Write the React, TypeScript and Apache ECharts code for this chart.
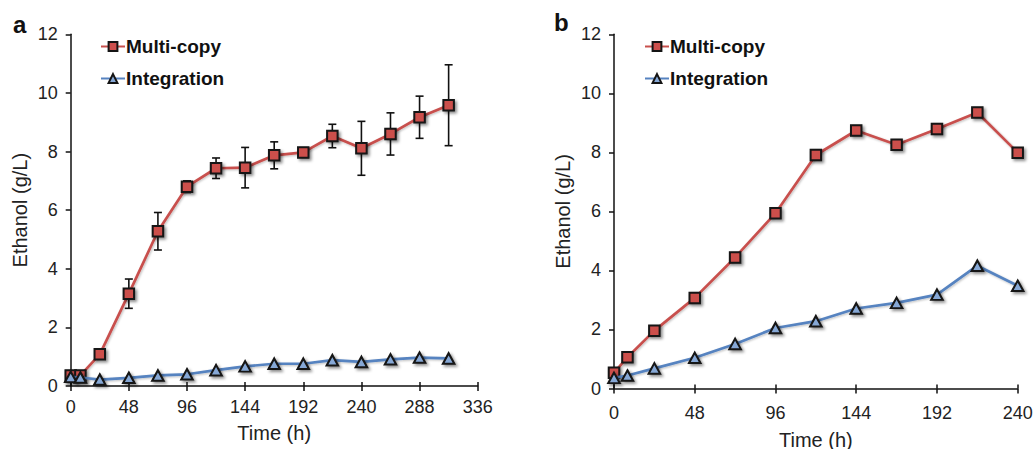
import React, { useEffect, useRef } from "react";
import * as echarts from "echarts";

// Panel a
const timeA = [0, 8, 24, 48, 72, 96, 120, 144, 168, 192, 216, 240, 264, 288, 312];
const multiA = [0.36, 0.36, 1.08, 3.15, 5.28, 6.8, 7.43, 7.45, 7.87, 7.97, 8.53, 8.11, 8.6, 9.17, 9.58];
const errA = [0.05, 0.05, 0.1, 0.5, 0.64, 0.2, 0.35, 0.69, 0.46, 0.1, 0.4, 0.92, 0.72, 0.72, 1.38];
const integA = [0.31, 0.29, 0.22, 0.28, 0.36, 0.4, 0.54, 0.67, 0.76, 0.76, 0.88, 0.82, 0.91, 0.97, 0.94];

// Panel b
const timeB = [0, 8, 24, 48, 72, 96, 120, 144, 168, 192, 216, 240];
const multiB = [0.53, 1.06, 1.96, 3.07, 4.44, 5.94, 7.91, 8.74, 8.26, 8.79, 9.35, 7.99];
const integB = [0.36, 0.44, 0.68, 1.04, 1.51, 2.05, 2.28, 2.71, 2.9, 3.18, 4.16, 3.48];

const FONT = "Liberation Sans";
const RED_LINE = "#c8504d";
const RED_FILL = "#cc4f4c";
const BLUE_LINE = "#5683c0";
const BLUE_FILL = "#86a8d6";
const EDGE = "#141414";

const pair = (xs: number[], ys: number[]) => xs.map((x, i) => [x, ys[i]]);

function yAxisFor(gridIndex: number) {
  return {
    type: "value",
    gridIndex,
    min: 0,
    max: 12,
    interval: 2,
    name: "Ethanol (g/L)",
    nameLocation: "middle",
    nameGap: 41,
    nameTextStyle: { fontFamily: FONT, fontSize: 20, color: "#222" },
    axisLine: { show: true, lineStyle: { color: "#111", width: 1.5 } },
    axisTick: { show: true, length: 5, lineStyle: { color: "#111", width: 1.5 } },
    axisLabel: { fontFamily: FONT, fontSize: 18, color: "#222", margin: 13 },
    splitLine: { show: false },
  };
}

function xAxisFor(gridIndex: number, max: number, labelMargin: number, nameGap: number) {
  return {
    type: "value",
    gridIndex,
    min: 0,
    max,
    interval: 48,
    name: "Time (h)",
    nameLocation: "middle",
    nameGap,
    nameTextStyle: { fontFamily: FONT, fontSize: 20, color: "#222" },
    axisLine: { show: true, onZero: false, lineStyle: { color: "#111", width: 1.5 } },
    axisTick: { show: true, length: 5, lineStyle: { color: "#111", width: 1.5 } },
    axisLabel: { fontFamily: FONT, fontSize: 18, color: "#222", margin: labelMargin },
    splitLine: { show: false },
  };
}

function innerTickAxis(gridIndex: number, max: number) {
  return {
    type: "value",
    gridIndex,
    min: 0,
    max,
    interval: 48,
    position: "bottom",
    axisLine: { show: false, onZero: false },
    axisTick: { show: true, inside: true, length: 4, lineStyle: { color: "#111", width: 1.5 } },
    axisLabel: { show: false },
    splitLine: { show: false },
  };
}

const shadow = {
  shadowColor: "rgba(0,0,0,0.45)",
  shadowBlur: 3,
  shadowOffsetX: 2,
  shadowOffsetY: 2,
};

function multiSeries(xi: number, yi: number, data: number[][]) {
  return {
    name: "Multi-copy",
    type: "line",
    xAxisIndex: xi,
    yAxisIndex: yi,
    data,
    z: 3,
    symbol: "rect",
    symbolSize: 10.5,
    showAllSymbol: true,
    lineStyle: { color: RED_LINE, width: 2.7, shadowColor: "rgba(0,0,0,0.25)", shadowBlur: 2, shadowOffsetX: 1, shadowOffsetY: 1 },
    itemStyle: { color: RED_FILL, borderColor: EDGE, borderWidth: 2, ...shadow },
  };
}

function integSeries(xi: number, yi: number, data: number[][]) {
  return {
    name: "Integration",
    type: "line",
    xAxisIndex: xi,
    yAxisIndex: yi,
    data,
    z: 4,
    symbol: "triangle",
    symbolSize: [11.5, 10.5],
    showAllSymbol: true,
    lineStyle: { color: BLUE_LINE, width: 2.7, shadowColor: "rgba(0,0,0,0.25)", shadowBlur: 2, shadowOffsetX: 1, shadowOffsetY: 1 },
    itemStyle: { color: BLUE_FILL, borderColor: EDGE, borderWidth: 2, ...shadow },
  };
}

function legendAt(left: number) {
  return {
    left,
    top: 32,
    orient: "vertical",
    itemGap: 13,
    itemWidth: 24,
    itemHeight: 11,
    selectedMode: false,
    data: ["Multi-copy", "Integration"],
    textStyle: { fontFamily: FONT, fontSize: 19, fontWeight: "bold", color: "#111", padding: [0, 0, 0, -4] },
  };
}

export default function App() {
  const ref = useRef<HTMLDivElement>(null);
  useEffect(() => {
    if (!ref.current) return;
    const chart = echarts.init(ref.current, undefined, { renderer: "svg" });
    const errData = timeA.map((t, i) => [t, multiA[i] - errA[i], multiA[i] + errA[i]]);
    const option: any = {
      animation: false,
      backgroundColor: "#fff",
      grid: [
        { left: 70.7, right: 557.3, top: 34.3, bottom: 63, outerBoundsMode: "none", containLabel: false },
        { left: 614, right: 17.3, top: 34.3, bottom: 60.5, outerBoundsMode: "none", containLabel: false },
      ],
      xAxis: [
        xAxisFor(0, 336, 12, 37),
        xAxisFor(1, 240, 15, 41),
        innerTickAxis(0, 336),
        innerTickAxis(1, 240),
      ],
      yAxis: [yAxisFor(0), yAxisFor(1)],
      legend: [legendAt(95), legendAt(639)],
      graphic: [
        { type: "text", left: 13, top: 12, style: { text: "a", fontFamily: FONT, fontSize: 24, fontWeight: "bold", fill: "#111" } },
        { type: "text", left: 554, top: 10, style: { text: "b", fontFamily: FONT, fontSize: 24, fontWeight: "bold", fill: "#111" } },
      ],
      series: [
        {
          type: "custom",
          name: "errA",
          xAxisIndex: 0,
          yAxisIndex: 0,
          z: 2,
          encode: { x: 0, y: [1, 2] },
          data: errData,
          renderItem: (params: any, api: any) => {
            const x = api.value(0);
            const lo = api.coord([x, api.value(1)]);
            const hi = api.coord([x, api.value(2)]);
            const hw = 4;
            const st = { stroke: "#111", lineWidth: 1.6 };
            return {
              type: "group",
              children: [
                { type: "line", shape: { x1: hi[0], y1: hi[1], x2: lo[0], y2: lo[1] }, style: st },
                { type: "line", shape: { x1: hi[0] - hw, y1: hi[1], x2: hi[0] + hw, y2: hi[1] }, style: st },
                { type: "line", shape: { x1: lo[0] - hw, y1: lo[1], x2: lo[0] + hw, y2: lo[1] }, style: st },
              ],
            };
          },
        },
        multiSeries(0, 0, pair(timeA, multiA)),
        integSeries(0, 0, pair(timeA, integA)),
        multiSeries(1, 1, pair(timeB, multiB)),
        integSeries(1, 1, pair(timeB, integB)),
      ],
    };
    chart.setOption(option);
    return () => chart.dispose();
  }, []);
  return (
    <div
      ref={ref}
      style={{ position: "absolute", left: 0, top: 0, width: 1035, height: 449, background: "#fff" }}
    />
  );
}
